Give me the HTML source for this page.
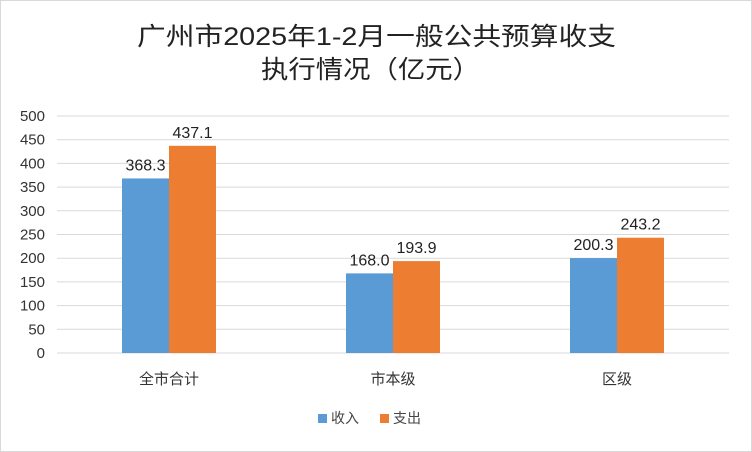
<!DOCTYPE html>
<html><head><meta charset="utf-8"><style>
html,body{margin:0;padding:0;background:#fff}
svg{display:block;font-family:"Liberation Sans","Noto Sans CJK SC",sans-serif}
</style></head><body>
<svg id="chart" width="752" height="452" viewBox="0 0 752 452">
<rect x="0.5" y="0.5" width="751" height="451" fill="#fff" stroke="#d9d9d9"/>
<text x="137" y="45" font-size="25" fill="#222" textLength="479" lengthAdjust="spacingAndGlyphs">广州市2025年1-2月一般公共预算收支</text>
<text x="261" y="78" font-size="25" fill="#222" textLength="219" lengthAdjust="spacingAndGlyphs">执行情况（亿元）</text>
<g id="grid"></g><g id="bars"></g><g id="labels"></g>
<g>
<rect x="318" y="414" width="9" height="9" fill="#5b9bd5"/>
<text x="331" y="423" font-size="14" fill="#444">收入</text>
<rect x="380" y="414" width="9" height="9" fill="#ed7d31"/>
<text x="393" y="423" font-size="14" fill="#444">支出</text>
</g>
</svg>
<script>
const categories=["全市合计","市本级","区级"];
const income=[368.3,168.0,200.3];
const expense=[437.1,193.9,243.2];
const yTicks=[0,50,100,150,200,250,300,350,400,450,500];
const NS="http://www.w3.org/2000/svg";
const x0=57,x1=729,y0=353,y1=116,yMax=500;
const y=v=>y0-(v/yMax)*(y0-y1);
const bw=(x1-x0)/categories.length;
const xc=i=>x0+bw*(i+0.5);
function mk(t,a,p){const e=document.createElementNS(NS,t);for(const k in a)e.setAttribute(k,a[k]);p.appendChild(e);return e;}
const g=document.getElementById('grid'),b=document.getElementById('bars'),l=document.getElementById('labels');
yTicks.forEach(t=>{
 const ln=mk('line',{x1:x0,x2:x1,y1:y(t),y2:y(t),stroke:'#d9d9d9','stroke-width':1},g);
 
 
 const tx=mk('text',{x:45,y:y(t)+5,'text-anchor':'end','font-size':15,fill:'#333'},g);
 tx.textContent=t;
 
 
});
categories.forEach((c,i)=>{
 const w=47;
 [[income,'#5b9bd5',-w,'income'],[expense,'#ed7d31',0,'expense']].forEach(([arr,col,off,nm])=>{
  const r=mk('rect',{x:xc(i)+off,y:y(arr[i]),width:w,height:y0-y(arr[i]),fill:col},b);
  
  
  const t=mk('text',{x:xc(i)+off+w/2,y:y(arr[i])-8,'text-anchor':'middle','font-size':16,fill:'#222'},l);
  t.textContent=arr[i].toFixed(1);
  
  
 });
 const ct=mk('text',{x:xc(i),y:384,'text-anchor':'middle','font-size':15,fill:'#333'},l);
 ct.textContent=c;
 
 
});
</script>
</body></html>
